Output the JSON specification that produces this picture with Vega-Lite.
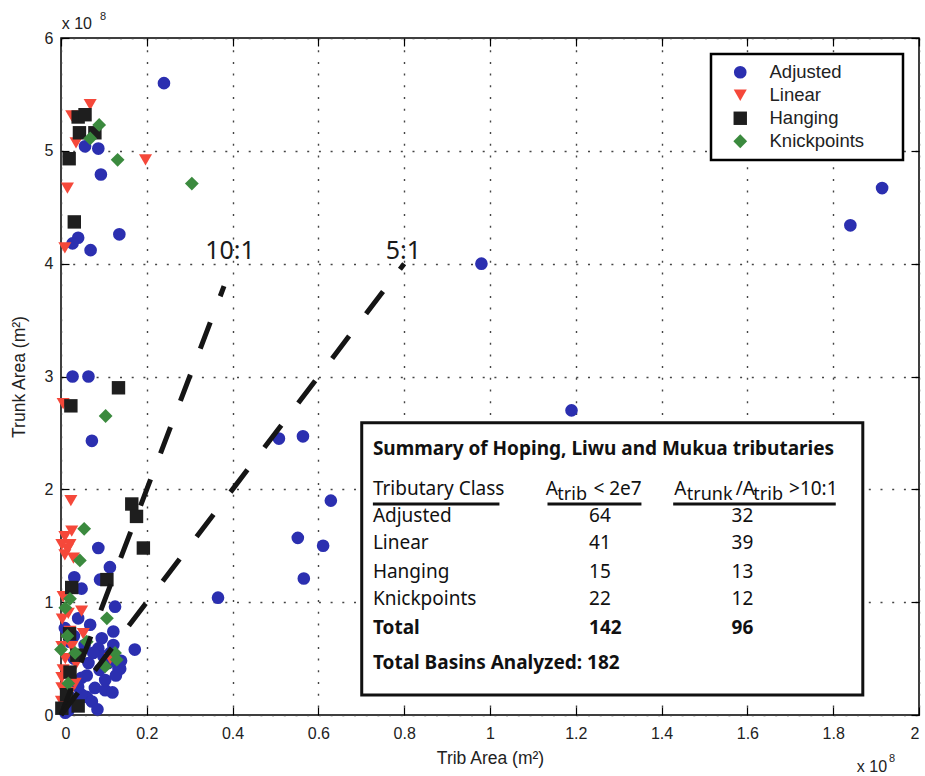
{
  "$schema": "https://vega.github.io/schema/vega-lite/v6.json",
  "width": 858,
  "height": 677,
  "autosize": {"type": "none"},
  "padding": {"left": 61, "top": 38, "right": 6, "bottom": 61},
  "background": "white",
  "config": {
    "view": {"stroke": "black", "strokeWidth": 1.5},
    "axis": {
      "domain": false,
      "tickColor": "black",
      "tickWidth": 1.2,
      "tickSize": -8,
      "labelFont": "Liberation Sans",
      "labelFontSize": 16,
      "labelColor": "#222",
      "titleFont": "Liberation Sans",
      "titleFontSize": 17.5,
      "titleFontWeight": "normal",
      "titleColor": "#222",
      "gridColor": "#444",
      "gridDash": [2, 9.7],
      "gridWidth": 1.4,
      "gridOpacity": 1
    },
    "legend": {
      "orient": "top-right",
      "offset": 16,
      "padding": 9,
      "strokeColor": "black",
      "strokeWidth": 2.5,
      "fillColor": "white",
      "labelFont": "Liberation Sans",
      "labelFontSize": 18.5,
      "labelColor": "#222",
      "symbolSize": 140,
      "symbolStrokeWidth": 0,
      "symbolOffset": 11,
      "labelOffset": 20,
      "rowPadding": 4,
      "titleOrient": "right",
      "titlePadding": 30
    }
  },
  "datasets": {
    "pts": [
      {"class": "Adjusted", "trib": 0.24, "trunk": 5.6},
      {"class": "Adjusted", "trib": 0.056, "trunk": 5.04},
      {"class": "Adjusted", "trib": 0.087, "trunk": 5.02},
      {"class": "Adjusted", "trib": 0.093, "trunk": 4.79},
      {"class": "Adjusted", "trib": 0.04, "trunk": 4.23},
      {"class": "Adjusted", "trib": 0.027, "trunk": 4.18},
      {"class": "Adjusted", "trib": 0.136, "trunk": 4.26},
      {"class": "Adjusted", "trib": 0.069, "trunk": 4.12},
      {"class": "Adjusted", "trib": 0.027, "trunk": 3.0},
      {"class": "Adjusted", "trib": 0.064, "trunk": 3.0},
      {"class": "Adjusted", "trib": 0.072, "trunk": 2.43},
      {"class": "Adjusted", "trib": 0.98, "trunk": 4.0},
      {"class": "Adjusted", "trib": 1.19, "trunk": 2.7},
      {"class": "Adjusted", "trib": 1.84, "trunk": 4.34},
      {"class": "Adjusted", "trib": 1.914, "trunk": 4.67},
      {"class": "Adjusted", "trib": 0.508, "trunk": 2.45},
      {"class": "Adjusted", "trib": 0.564, "trunk": 2.47},
      {"class": "Adjusted", "trib": 0.629, "trunk": 1.9},
      {"class": "Adjusted", "trib": 0.552, "trunk": 1.57},
      {"class": "Adjusted", "trib": 0.611, "trunk": 1.5},
      {"class": "Adjusted", "trib": 0.566, "trunk": 1.21},
      {"class": "Adjusted", "trib": 0.366, "trunk": 1.04},
      {"class": "Adjusted", "trib": 0.087, "trunk": 1.48},
      {"class": "Adjusted", "trib": 0.114, "trunk": 1.31},
      {"class": "Adjusted", "trib": 0.031, "trunk": 1.22},
      {"class": "Adjusted", "trib": 0.091, "trunk": 1.2},
      {"class": "Adjusted", "trib": 0.048, "trunk": 1.12},
      {"class": "Adjusted", "trib": 0.126, "trunk": 0.96},
      {"class": "Adjusted", "trib": 0.04, "trunk": 0.857},
      {"class": "Adjusted", "trib": 0.068, "trunk": 0.8},
      {"class": "Adjusted", "trib": 0.122, "trunk": 0.74},
      {"class": "Adjusted", "trib": 0.009, "trunk": 0.77},
      {"class": "Adjusted", "trib": 0.095, "trunk": 0.68},
      {"class": "Adjusted", "trib": 0.087, "trunk": 0.59},
      {"class": "Adjusted", "trib": 0.122, "trunk": 0.62},
      {"class": "Adjusted", "trib": 0.172, "trunk": 0.58},
      {"class": "Adjusted", "trib": 0.064, "trunk": 0.46},
      {"class": "Adjusted", "trib": 0.11, "trunk": 0.46},
      {"class": "Adjusted", "trib": 0.138, "trunk": 0.41},
      {"class": "Adjusted", "trib": 0.099, "trunk": 0.52},
      {"class": "Adjusted", "trib": 0.134, "trunk": 0.41},
      {"class": "Adjusted", "trib": 0.128, "trunk": 0.35},
      {"class": "Adjusted", "trib": 0.048, "trunk": 0.33},
      {"class": "Adjusted", "trib": 0.079, "trunk": 0.24},
      {"class": "Adjusted", "trib": 0.103, "trunk": 0.22},
      {"class": "Adjusted", "trib": 0.06, "trunk": 0.16},
      {"class": "Adjusted", "trib": 0.033, "trunk": 0.09},
      {"class": "Adjusted", "trib": 0.072, "trunk": 0.12},
      {"class": "Adjusted", "trib": 0.017, "trunk": 0.04},
      {"class": "Adjusted", "trib": 0.048, "trunk": 0.18},
      {"class": "Adjusted", "trib": 0.103, "trunk": 0.31},
      {"class": "Adjusted", "trib": 0.02, "trunk": 0.65},
      {"class": "Adjusted", "trib": 0.03, "trunk": 0.5},
      {"class": "Adjusted", "trib": 0.055, "trunk": 0.62},
      {"class": "Adjusted", "trib": 0.075, "trunk": 0.55},
      {"class": "Adjusted", "trib": 0.09, "trunk": 0.4},
      {"class": "Adjusted", "trib": 0.115, "trunk": 0.55},
      {"class": "Adjusted", "trib": 0.04, "trunk": 0.25},
      {"class": "Adjusted", "trib": 0.025, "trunk": 0.15},
      {"class": "Adjusted", "trib": 0.01, "trunk": 0.02},
      {"class": "Adjusted", "trib": 0.085, "trunk": 0.05},
      {"class": "Adjusted", "trib": 0.12, "trunk": 0.2},
      {"class": "Adjusted", "trib": 0.14, "trunk": 0.48},
      {"class": "Adjusted", "trib": 0.06, "trunk": 0.35},
      {"class": "Adjusted", "trib": 0.03, "trunk": 0.7},
      {"class": "Linear", "trib": 0.068, "trunk": 5.41},
      {"class": "Linear", "trib": 0.025, "trunk": 5.31},
      {"class": "Linear", "trib": 0.035, "trunk": 5.07},
      {"class": "Linear", "trib": 0.197, "trunk": 4.92},
      {"class": "Linear", "trib": 0.015, "trunk": 4.67},
      {"class": "Linear", "trib": 0.009, "trunk": 4.14},
      {"class": "Linear", "trib": 0.005, "trunk": 2.76},
      {"class": "Linear", "trib": 0.023, "trunk": 1.9},
      {"class": "Linear", "trib": 0.025, "trunk": 1.63},
      {"class": "Linear", "trib": 0.009, "trunk": 1.58},
      {"class": "Linear", "trib": 0.002, "trunk": 1.51},
      {"class": "Linear", "trib": 0.021, "trunk": 1.51},
      {"class": "Linear", "trib": 0.009, "trunk": 1.42},
      {"class": "Linear", "trib": 0.029, "trunk": 1.39},
      {"class": "Linear", "trib": 0.015, "trunk": 1.47},
      {"class": "Linear", "trib": 0.005, "trunk": 1.05},
      {"class": "Linear", "trib": 0.017, "trunk": 0.9},
      {"class": "Linear", "trib": 0.048, "trunk": 0.92},
      {"class": "Linear", "trib": 0.021, "trunk": 0.74},
      {"class": "Linear", "trib": 0.052, "trunk": 0.72},
      {"class": "Linear", "trib": 0.002, "trunk": 0.605},
      {"class": "Linear", "trib": 0.025, "trunk": 0.605},
      {"class": "Linear", "trib": 0.005, "trunk": 0.4},
      {"class": "Linear", "trib": 0.002, "trunk": 0.33},
      {"class": "Linear", "trib": 0.002, "trunk": 0.24},
      {"class": "Linear", "trib": 0.033, "trunk": 0.28},
      {"class": "Linear", "trib": 0.01, "trunk": 0.5},
      {"class": "Linear", "trib": 0.001, "trunk": 0.12},
      {"class": "Linear", "trib": 0.035, "trunk": 0.45},
      {"class": "Linear", "trib": 0.003, "trunk": 0.85},
      {"class": "Linear", "trib": 0.02, "trunk": 0.2},
      {"class": "Linear", "trib": 0.115, "trunk": 0.5},
      {"class": "Hanging", "trib": 0.04, "trunk": 5.3},
      {"class": "Hanging", "trib": 0.056, "trunk": 5.32},
      {"class": "Hanging", "trib": 0.043, "trunk": 5.16},
      {"class": "Hanging", "trib": 0.079, "trunk": 5.16},
      {"class": "Hanging", "trib": 0.019, "trunk": 4.93},
      {"class": "Hanging", "trib": 0.031, "trunk": 4.37},
      {"class": "Hanging", "trib": 0.134, "trunk": 2.9},
      {"class": "Hanging", "trib": 0.023, "trunk": 2.74},
      {"class": "Hanging", "trib": 0.165, "trunk": 1.87},
      {"class": "Hanging", "trib": 0.176, "trunk": 1.76},
      {"class": "Hanging", "trib": 0.192, "trunk": 1.48},
      {"class": "Hanging", "trib": 0.107, "trunk": 1.2},
      {"class": "Hanging", "trib": 0.025, "trunk": 1.13},
      {"class": "Hanging", "trib": 0.037, "trunk": 0.53},
      {"class": "Hanging", "trib": 0.021, "trunk": 0.38},
      {"class": "Hanging", "trib": 0.013, "trunk": 0.18},
      {"class": "Hanging", "trib": 0.002, "trunk": 0.06},
      {"class": "Hanging", "trib": 0.04, "trunk": 0.08},
      {"class": "Hanging", "trib": 0.02, "trunk": 0.72},
      {"class": "Knickpoints", "trib": 0.089, "trunk": 5.23},
      {"class": "Knickpoints", "trib": 0.068, "trunk": 5.11},
      {"class": "Knickpoints", "trib": 0.132, "trunk": 4.92},
      {"class": "Knickpoints", "trib": 0.305, "trunk": 4.71},
      {"class": "Knickpoints", "trib": 0.104, "trunk": 2.65},
      {"class": "Knickpoints", "trib": 0.054, "trunk": 1.65},
      {"class": "Knickpoints", "trib": 0.044, "trunk": 1.37},
      {"class": "Knickpoints", "trib": 0.021, "trunk": 1.03},
      {"class": "Knickpoints", "trib": 0.107, "trunk": 0.857},
      {"class": "Knickpoints", "trib": 0.0, "trunk": 0.58},
      {"class": "Knickpoints", "trib": 0.033, "trunk": 0.55},
      {"class": "Knickpoints", "trib": 0.126, "trunk": 0.55},
      {"class": "Knickpoints", "trib": 0.103, "trunk": 0.43},
      {"class": "Knickpoints", "trib": 0.017, "trunk": 0.28},
      {"class": "Knickpoints", "trib": 0.13, "trunk": 0.49},
      {"class": "Knickpoints", "trib": 0.01, "trunk": 0.95},
      {"class": "Knickpoints", "trib": 0.06, "trunk": 0.65},
      {"class": "Knickpoints", "trib": 0.015, "trunk": 0.7}
    ]
  },
  "resolve": {"axis": {"x": "independent", "y": "independent"}},
  "layer": [
    {
      "data": {"name": "pts"},
      "mark": {"type": "point", "filled": true, "opacity": 1},
      "encoding": {
        "x": {
          "field": "trib", "type": "quantitative",
          "scale": {"domain": [0, 2], "nice": false, "zero": false},
          "axis": {
            "orient": "bottom",
            "values": [0, 0.2, 0.4, 0.6, 0.8, 1, 1.2, 1.4, 1.6, 1.8, 2],
            "format": "~g",
            "grid": true,
            "labelPadding": 18,
            "labelBaseline": "top",
            "title": "Trib Area (m²)",
            "titlePadding": 8
          }
        },
        "y": {
          "field": "trunk", "type": "quantitative",
          "scale": {"domain": [0, 6], "nice": false, "zero": false},
          "axis": {
            "orient": "left",
            "values": [0, 1, 2, 3, 4, 5, 6],
            "format": "~g",
            "grid": true,
            "labelPadding": 16,
            "title": "Trunk Area (m²)",
            "titlePadding": 16
          }
        },
        "color": {
          "field": "class", "type": "nominal",
          "scale": {
            "domain": ["Adjusted", "Linear", "Hanging", "Knickpoints"],
            "range": ["#2b2fb0", "#f5483a", "#1e1e1e", "#3b8a3e"]
          },
          "legend": {"title": "\u00a0"}
        },
        "shape": {
          "field": "class", "type": "nominal",
          "scale": {
            "domain": ["Adjusted", "Linear", "Hanging", "Knickpoints"],
            "range": ["circle", "triangle-down", "square", "diamond"]
          },
          "legend": {"title": "\u00a0"}
        },
        "size": {
          "field": "class", "type": "nominal",
          "scale": {
            "domain": ["Adjusted", "Linear", "Hanging", "Knickpoints"],
            "range": [160, 190, 130, 150]
          },
          "legend": null
        }
      }
    },
    {
      "data": {"values": [
        {"ratio": "10:1", "trib": 0, "trunk": 0},
        {"ratio": "10:1", "trib": 0.38, "trunk": 3.8},
        {"ratio": "5:1", "trib": 0, "trunk": 0},
        {"ratio": "5:1", "trib": 0.8, "trunk": 4.0}
      ]},
      "mark": {"type": "line", "color": "#151515", "strokeWidth": 5, "strokeDash": [28, 28], "strokeCap": "butt"},
      "encoding": {
        "x": {"field": "trib", "type": "quantitative",
          "axis": {"orient": "top", "labels": false, "grid": false, "title": null,
            "values": [0, 0.2, 0.4, 0.6, 0.8, 1, 1.2, 1.4, 1.6, 1.8, 2]}},
        "y": {"field": "trunk", "type": "quantitative",
          "axis": {"orient": "right", "labels": false, "grid": false, "title": null,
            "values": [0, 1, 2, 3, 4, 5, 6]}},
        "detail": {"field": "ratio"}
      }
    },
    {
      "data": {"values": [
        {"label": "10:1", "trib": 0.394, "trunk": 4.11},
        {"label": "5:1", "trib": 0.798, "trunk": 4.11}
      ]},
      "mark": {"type": "text", "font": "Noto Sans", "fontSize": 25, "color": "#1a1a1a", "align": "center", "baseline": "middle"},
      "encoding": {
        "x": {"field": "trib", "type": "quantitative", "axis": null},
        "y": {"field": "trunk", "type": "quantitative", "axis": null},
        "text": {"field": "label"}
      }
    },
    {
      "data": {"values": [{"x0": 0.701, "x1": 1.869, "y0": 0.177, "y1": 2.591}]},
      "mark": {"type": "rect", "fill": "white", "stroke": "#111", "strokeWidth": 3},
      "encoding": {
        "x": {"field": "x0", "type": "quantitative", "axis": null},
        "x2": {"field": "x1"},
        "y": {"field": "y0", "type": "quantitative", "axis": null},
        "y2": {"field": "y1"}
      }
    },
    {
      "data": {"values": [
        {"x0": 0.727, "x1": 1.022, "yv": 1.871},
        {"x0": 1.134, "x1": 1.353, "yv": 1.871},
        {"x0": 1.427, "x1": 1.806, "yv": 1.871}
      ]},
      "mark": {"type": "rule", "color": "#111", "strokeWidth": 3},
      "encoding": {
        "x": {"field": "x0", "type": "quantitative", "axis": null},
        "x2": {"field": "x1"},
        "y": {"field": "yv", "type": "quantitative", "axis": null}
      }
    },
    {
      "data": {"values": [
        {"t": "Summary of Hoping, Liwu and Mukua tributaries", "tx": 0.727, "ty": 2.355},
        {"t": "Total", "tx": 0.727, "ty": 0.768},
        {"t": "142", "tx": 1.231, "ty": 0.768},
        {"t": "96", "tx": 1.563, "ty": 0.768},
        {"t": "Total Basins Analyzed: 182", "tx": 0.727, "ty": 0.458}
      ]},
      "mark": {"type": "text", "font": "Noto Sans", "fontSize": 19, "fontWeight": "bold", "color": "#111", "align": "left", "baseline": "middle"},
      "encoding": {
        "x": {"field": "tx", "type": "quantitative", "axis": null},
        "y": {"field": "ty", "type": "quantitative", "axis": null},
        "text": {"field": "t"}
      }
    },
    {
      "data": {"values": [
        {"t": "Tributary Class", "tx": 0.727, "ty": 2.001},
        {"t": "A", "tx": 1.13, "ty": 2.001},
        {"t": "< 2e7", "tx": 1.241, "ty": 2.001},
        {"t": "A", "tx": 1.4296, "ty": 2.001},
        {"t": "/A", "tx": 1.5727, "ty": 2.001},
        {"t": ">10:1", "tx": 1.697, "ty": 2.001},
        {"t": "Adjusted", "tx": 0.727, "ty": 1.767},
        {"t": "64", "tx": 1.231, "ty": 1.767},
        {"t": "32", "tx": 1.563, "ty": 1.767},
        {"t": "Linear", "tx": 0.727, "ty": 1.522},
        {"t": "41", "tx": 1.231, "ty": 1.522},
        {"t": "39", "tx": 1.563, "ty": 1.522},
        {"t": "Hanging", "tx": 0.727, "ty": 1.27},
        {"t": "15", "tx": 1.231, "ty": 1.27},
        {"t": "13", "tx": 1.563, "ty": 1.27},
        {"t": "Knickpoints", "tx": 0.727, "ty": 1.028},
        {"t": "22", "tx": 1.231, "ty": 1.028},
        {"t": "12", "tx": 1.563, "ty": 1.028}
      ]},
      "mark": {"type": "text", "font": "Noto Sans", "fontSize": 19, "color": "#111", "align": "left", "baseline": "middle"},
      "encoding": {
        "x": {"field": "tx", "type": "quantitative", "axis": null},
        "y": {"field": "ty", "type": "quantitative", "axis": null},
        "text": {"field": "t"}
      }
    },
    {
      "data": {"values": [
        {"t": "trib", "tx": 1.157, "ty": 1.95},
        {"t": "trunk", "tx": 1.4585, "ty": 1.95},
        {"t": "trib", "tx": 1.6138, "ty": 1.95}
      ]},
      "mark": {"type": "text", "font": "Noto Sans", "fontSize": 18, "color": "#111", "align": "left", "baseline": "middle"},
      "encoding": {
        "x": {"field": "tx", "type": "quantitative", "axis": null},
        "y": {"field": "ty", "type": "quantitative", "axis": null},
        "text": {"field": "t"}
      }
    },
    {
      "data": {"values": [
        {"t": "x 10", "tx": 0.0016, "ty": 6.126},
        {"t": "x 10", "tx": 1.855, "ty": -0.459}
      ]},
      "mark": {"type": "text", "font": "Liberation Sans", "fontSize": 16, "color": "#222", "align": "left", "baseline": "middle"},
      "encoding": {
        "x": {"field": "tx", "type": "quantitative", "axis": null},
        "y": {"field": "ty", "type": "quantitative", "axis": null},
        "text": {"field": "t"}
      }
    },
    {
      "data": {"values": [
        {"t": "8", "tx": 0.0909, "ty": 6.19},
        {"t": "8", "tx": 1.93, "ty": -0.386}
      ]},
      "mark": {"type": "text", "font": "Liberation Sans", "fontSize": 11, "color": "#222", "align": "left", "baseline": "middle"},
      "encoding": {
        "x": {"field": "tx", "type": "quantitative", "axis": null},
        "y": {"field": "ty", "type": "quantitative", "axis": null},
        "text": {"field": "t"}
      }
    }
  ]
}
